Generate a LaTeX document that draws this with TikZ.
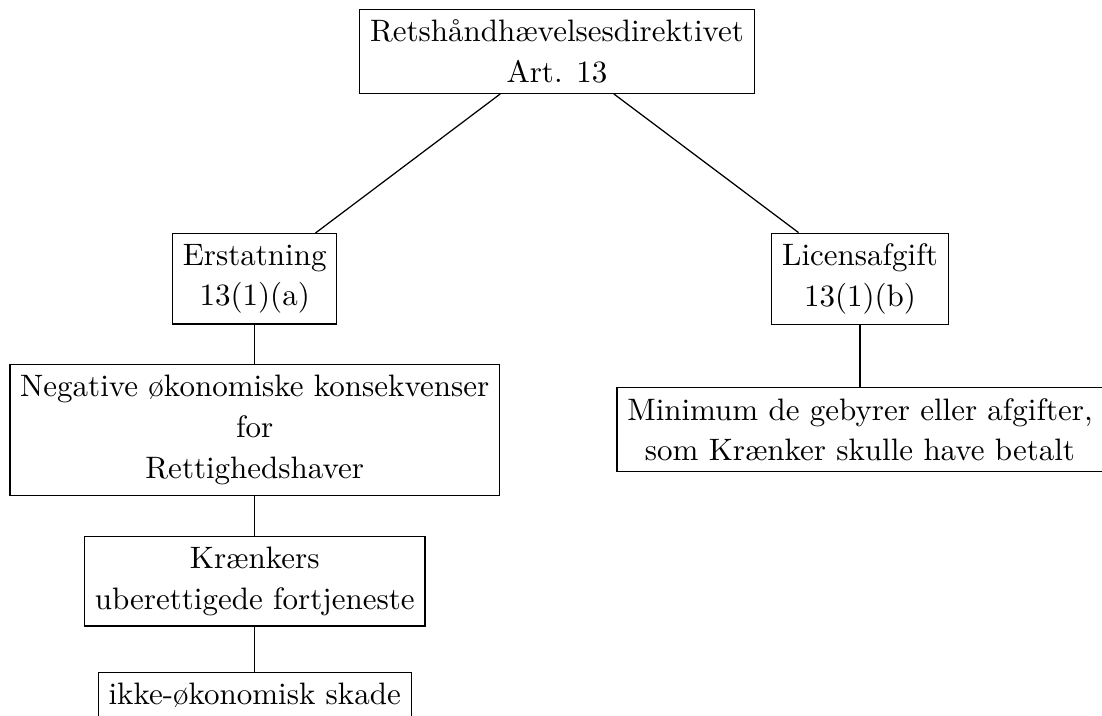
\documentclass[tikz,border=0pt]{standalone}
\begin{document}
\begin{tikzpicture}[x=0.3226pt,y=-0.3226pt,
  box/.style={draw, align=center, inner sep=3.333pt, font=\fontsize{10}{13.2}\selectfont}]
\useasboundingbox (0,0) rectangle (1102,716);
\node[box] (top) at (557,51.2) {Retshåndhævelsesdirektivet\\Art. 13};
\node[box] (erst) at (254.7,278.8) {Erstatning\\13(1)(a)};
\node[box] (lic) at (860,278.8) {Licensafgift\\13(1)(b)};
\node[box] (neg) at (254.7,430) {Negative økonomiske konsekvenser\\for\\Rettighedshaver};
\node[box] (min) at (860,429.7) {Minimum de gebyrer eller afgifter,\\som Krænker skulle have betalt};
\node[box] (kr) at (254.7,581.2) {Krænkers\\uberettigede fortjeneste};
\node[box] (ikke) at (254.7,695.5) {ikke-økonomisk skade};
\draw (top) -- (erst);
\draw (top) -- (lic);
\draw (erst) -- (neg);
\draw (neg) -- (kr);
\draw (kr) -- (ikke);
\draw (lic) -- (min);
\end{tikzpicture}
\end{document}
